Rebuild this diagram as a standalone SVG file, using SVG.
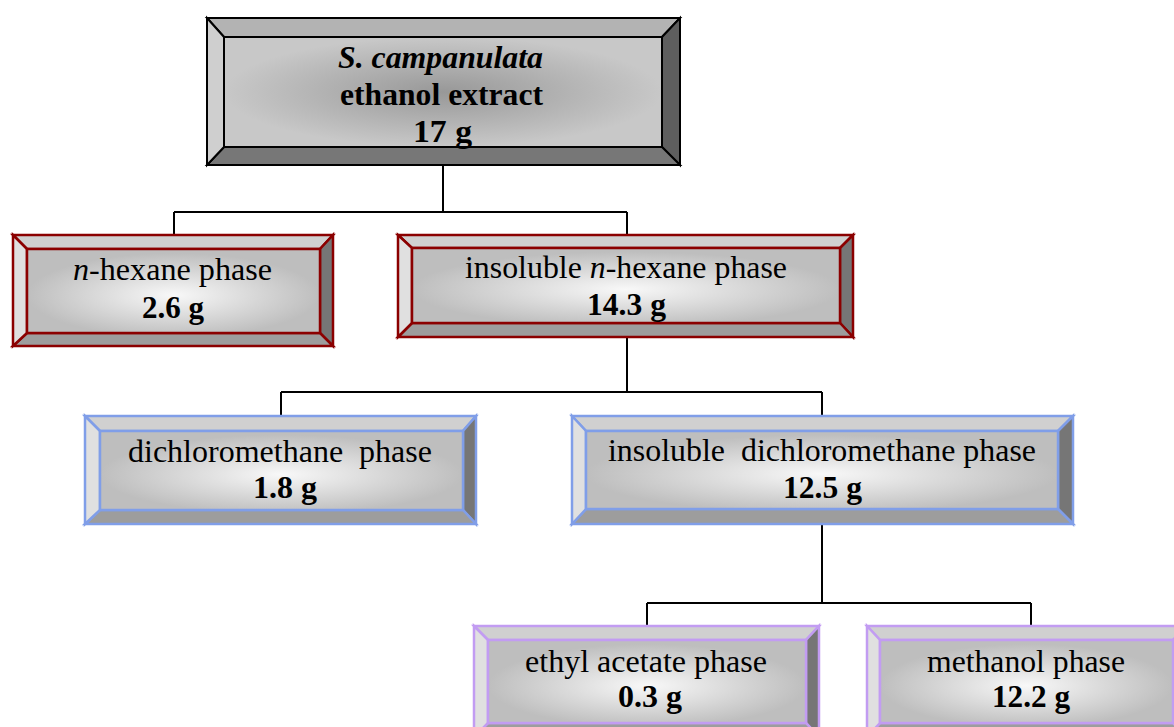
<svg xmlns="http://www.w3.org/2000/svg" width="1174" height="727" viewBox="0 0 1174 727">
<style>
  .t { font-family: "Liberation Serif", "Times New Roman", serif; font-size: 31px; fill: #000; text-anchor: middle; }
  .b { font-weight: bold; }
  .i { font-style: italic; }
  .bt { fill: #b3b3b3; }
  .bl { fill: #cfcfcf; }
  .br { fill: #5e5e5e; }
  .bb { fill: #777777; }
  .lt { fill: #d0d0d0; }
  .ll { fill: #e0e0e0; }
  .lr { fill: #767676; }
  .lb { fill: #9d9d9d; }
  .k { stroke: #000; stroke-width: 2; stroke-linejoin: miter; }
  .r { stroke: #8b0000; stroke-width: 2.5; }
  .u { stroke: #809ee8; stroke-width: 2.5; }
  .p { stroke: #c29cf2; stroke-width: 2.5; }
  .conn { fill: none; stroke: #000; stroke-width: 2; }
</style>
<defs>
  <radialGradient id="gDark" cx="0.5" cy="0.5" r="0.5">
    <stop offset="0" stop-color="#989898"/>
    <stop offset="1" stop-color="#c8c8c8"/>
  </radialGradient>
  <radialGradient id="gLight" cx="0.5" cy="0.55" r="0.5">
    <stop offset="0" stop-color="#f8f8f8"/>
    <stop offset="1" stop-color="#bebebe"/>
  </radialGradient>
</defs>
<rect width="1174" height="727" fill="#fff"/>

<g id="connectors">
  <path class="conn" d="M443,165 V212 M174,212 H627 M174,212 V235 M627,212 V235"/>
  <path class="conn" d="M627,337 V392 M281,392 H822 M281,392 V416 M822,392 V416"/>
  <path class="conn" d="M822,524 V603 M647,603 H1031 M647,603 V626 M1031,603 V626"/>
</g>

<g id="node-ethanol-extract">
  <g class="k">
    <polygon class="bt" points="207,18 680,18 662,37 224,37"/>
    <polygon class="br" points="680,18 680,165 662,147 662,37"/>
    <polygon class="bb" points="207,165 680,165 662,147 224,147"/>
    <polygon class="bl" points="207,18 224,37 224,147 207,165"/>
    <rect x="224" y="37" width="438" height="110" fill="url(#gDark)"/>
  </g>
  <text class="t b i" x="440.5" y="68" textLength="205" lengthAdjust="spacingAndGlyphs">S. campanulata</text>
  <text class="t b" x="441.5" y="105" textLength="203" lengthAdjust="spacingAndGlyphs">ethanol extract</text>
  <text class="t b" x="442.5" y="142" textLength="59" lengthAdjust="spacingAndGlyphs">17 g</text>
</g>

<g id="node-n-hexane">
  <g class="r">
    <polygon class="lt" points="13,235 333,235 320,249 27,249"/>
    <polygon class="lr" points="333,235 333,346 320,333 320,249"/>
    <polygon class="lb" points="13,346 333,346 320,333 27,333"/>
    <polygon class="ll" points="13,235 27,249 27,333 13,346"/>
    <rect x="27" y="249" width="293" height="84" fill="url(#gLight)"/>
  </g>
  <text class="t" x="172.5" y="280" textLength="199" lengthAdjust="spacingAndGlyphs"><tspan class="i">n</tspan>-hexane phase</text>
  <text class="t b" x="173" y="318" textLength="62" lengthAdjust="spacingAndGlyphs">2.6 g</text>
</g>

<g id="node-insoluble-n-hexane">
  <g class="r">
    <polygon class="lt" points="398,235 853,235 840,248 412,248"/>
    <polygon class="lr" points="853,235 853,337 840,323 840,248"/>
    <polygon class="lb" points="398,337 853,337 840,323 412,323"/>
    <polygon class="ll" points="398,235 412,248 412,323 398,337"/>
    <rect x="412" y="248" width="428" height="75" fill="url(#gLight)"/>
  </g>
  <text class="t" x="626" y="278" textLength="322" lengthAdjust="spacingAndGlyphs">insoluble <tspan class="i">n</tspan>-hexane phase</text>
  <text class="t b" x="626.5" y="315" textLength="79" lengthAdjust="spacingAndGlyphs">14.3 g</text>
</g>

<g id="node-dichloromethane">
  <g class="u">
    <polygon class="lt" points="85,416 476,416 463,431 100,431"/>
    <polygon class="lr" points="476,416 476,524 463,510 463,431"/>
    <polygon class="lb" points="85,524 476,524 463,510 100,510"/>
    <polygon class="ll" points="85,416 100,431 100,510 85,524"/>
    <rect x="100" y="431" width="363" height="79" fill="url(#gLight)"/>
  </g>
  <text class="t" x="280" y="462" textLength="304" lengthAdjust="spacingAndGlyphs" xml:space="preserve">dichloromethane  phase</text>
  <text class="t b" x="285" y="498" textLength="64" lengthAdjust="spacingAndGlyphs">1.8 g</text>
</g>

<g id="node-insoluble-dichloromethane">
  <g class="u">
    <polygon class="lt" points="572,416 1073,416 1058,431 586,431"/>
    <polygon class="lr" points="1073,416 1073,524 1058,509 1058,431"/>
    <polygon class="lb" points="572,524 1073,524 1058,509 586,509"/>
    <polygon class="ll" points="572,416 586,431 586,509 572,524"/>
    <rect x="586" y="431" width="472" height="78" fill="url(#gLight)"/>
  </g>
  <text class="t" x="822" y="461" textLength="428" lengthAdjust="spacingAndGlyphs" xml:space="preserve">insoluble  dichloromethane phase</text>
  <text class="t b" x="822.5" y="498" textLength="79" lengthAdjust="spacingAndGlyphs">12.5 g</text>
</g>

<g id="node-ethyl-acetate">
  <g class="p">
    <polygon class="lt" points="474,626 819,626 806,640 488,640"/>
    <polygon class="lr" points="819,626 819,737 806,723 806,640"/>
    <polygon class="lb" points="474,737 819,737 806,723 488,723"/>
    <polygon class="ll" points="474,626 488,640 488,723 474,737"/>
    <rect x="488" y="640" width="318" height="83" fill="url(#gLight)"/>
  </g>
  <text class="t" x="646" y="672" textLength="242" lengthAdjust="spacingAndGlyphs">ethyl acetate phase</text>
  <text class="t b" x="650" y="707" textLength="64" lengthAdjust="spacingAndGlyphs">0.3 g</text>
</g>

<g id="node-methanol">
  <g class="p">
    <polygon class="lt" points="867,626 1187,626 1173,640 880,640"/>
    <polygon class="lr" points="1187,626 1187,737 1173,723 1173,640"/>
    <polygon class="lb" points="867,737 1187,737 1173,723 880,723"/>
    <polygon class="ll" points="867,626 880,640 880,723 867,737"/>
    <rect x="880" y="640" width="293" height="83" fill="url(#gLight)"/>
  </g>
  <text class="t" x="1026" y="672" textLength="198" lengthAdjust="spacingAndGlyphs">methanol phase</text>
  <text class="t b" x="1031" y="707" textLength="78" lengthAdjust="spacingAndGlyphs">12.2 g</text>
</g>
</svg>
